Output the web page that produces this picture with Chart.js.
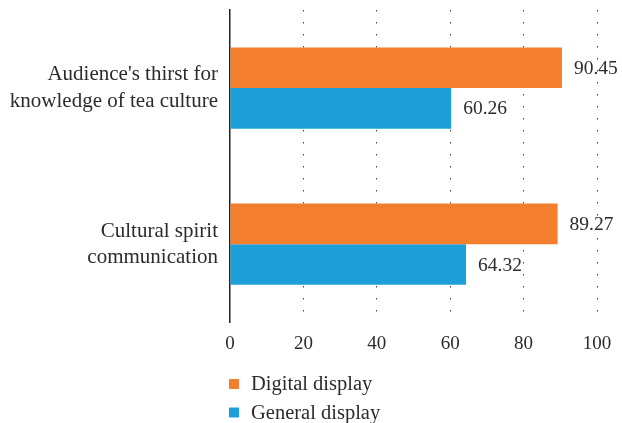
<!DOCTYPE html>
<html>
<head>
<meta charset="utf-8">
<script src="https://cdn.jsdelivr.net/npm/chart.js@4/dist/chart.umd.min.js"></script>
<style>
html,body{margin:0;padding:0;background:#fff;}
#wrap{position:relative;width:622px;height:423px;}
</style>
</head>
<body>
<div id="wrap"><canvas id="c" width="622" height="423"></canvas></div>
<script>
const categories = [["Audience's thirst for","knowledge of tea culture"],["Cultural spirit","communication"]];
const seriesNames = ["Digital display","General display"];
const digitalValues = [90.45, 89.27];
const generalValues = [60.26, 64.32];
const seriesColors = ["#F27E2E","#1F9FD9"];
const xTicks = [0,20,40,60,80,100];

const FONT = "'Liberation Serif', 'Times New Roman', serif";
const TEXT = "#2b2b2b";

const valueLabels = {
  id: 'valueLabels',
  afterDatasetsDraw(chart) {
    const ctx = chart.ctx;
    ctx.save();
    ctx.font = "19.5px " + FONT;
    ctx.fillStyle = TEXT;
    ctx.textAlign = 'left';
    ctx.textBaseline = 'middle';
    chart.data.datasets.forEach((ds, i) => {
      chart.getDatasetMeta(i).data.forEach((bar, j) => {
        ctx.fillText(ds.data[j].toFixed(2), bar.x + 12, bar.y + 1);
      });
    });
    ctx.restore();
  }
};

const customLegend = {
  id: 'customLegend',
  afterDraw(chart) {
    const ctx = chart.ctx;
    const left = chart.chartArea.left;
    ctx.save();
    ctx.font = "20.5px " + FONT;
    ctx.textAlign = 'left';
    ctx.textBaseline = 'middle';
    chart.data.datasets.forEach((ds, i) => {
      const y = 384 + i * 28.5;
      ctx.fillStyle = ds.backgroundColor;
      ctx.fillRect(left - 1, y - 5, 10, 10);
      ctx.fillStyle = TEXT;
      ctx.fillText(ds.label, left + 21, y + 1);
    });
    ctx.restore();
  }
};

new Chart(document.getElementById('c'), {
  type: 'bar',
  data: {
    labels: categories,
    datasets: [
      { label: seriesNames[0], data: digitalValues, backgroundColor: seriesColors[0] },
      { label: seriesNames[1], data: generalValues, backgroundColor: seriesColors[1] }
    ]
  },
  options: {
    indexAxis: 'y',
    responsive: false,
    animation: false,
    devicePixelRatio: 1,
    layout: { padding: { left: 0, right: 25, top: 10, bottom: 58 } },
    datasets: { bar: { barPercentage: 1.0, categoryPercentage: 0.52, borderWidth: 0 } },
    plugins: { legend: { display: false }, tooltip: { enabled: false } },
    scales: {
      x: {
        min: 0, max: 100,
        afterBuildTicks(scale) { scale.ticks = xTicks.map(v => ({ value: v })); },
        ticks: { color: TEXT, font: { family: FONT, size: 19 }, padding: 10 },
        grid: {
          drawTicks: false,
          color: (c) => c.tick && c.tick.value === 0 ? 'rgba(0,0,0,0)' : '#444',
          lineWidth: 1
        },
        border: { display: false, dash: [1.5, 10.5] }
      },
      y: {
        afterFit(scale) { scale.width = 230; scale.paddingTop = 0; scale.paddingBottom = 0; },
        ticks: { color: TEXT, font: { family: FONT, size: 21, lineHeight: 1.25 }, padding: 12 },
        grid: { display: false, drawTicks: false },
        border: { display: true, color: '#222', width: 1.5 }
      }
    }
  },
  plugins: [valueLabels, customLegend]
});
</script>
</body>
</html>
